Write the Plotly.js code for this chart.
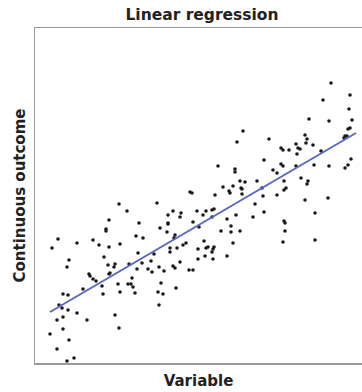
<!DOCTYPE html>
<html>
<head>
<meta charset="utf-8">
<script src="https://cdn.plot.ly/plotly-3.0.1.min.js"></script>
<style>html,body{margin:0;padding:0;background:#fff;}#chart{width:362px;height:392px;}</style>
</head>
<body>
<div id="chart"></div>
<script>
var chartTitle = 'Linear regression';
var xTitle = 'Variable';
var yTitle = 'Continuous outcome';

var xVals = [296,315,288,314,274,294,317,315,313,234,270,272,271,310,312,309,246,248,254,261,263,265,262,278,286,229,246,248,238,242,261,279,294,310,313,316,222,249,266,273,272,227,251,249,228,242,220,270,293,229,218,249,250,280,250,248,280,208,202,183,200,200,122,155,157,180,188,194,195,198,205,210,206,207,207,138,133,146,145,133,133,125,132,140,139,162,171,179,177,168,177,158,164,192,201,196,196,186,205,169,198,151,148,142,135,135,163,171,173,179,178,177,170,163,178,192,119,116,145,138,140,124,129,117,154,158,126,123,128,141,124,84,92,74,104,71,71,23,101,108,17,42,58,64,74,85,34,32,69,73,80,79,75,74,94,103,102,107,113,54,55,58,61,97,48,67,83,93,96,98,68,85,100,28,33,24,27,33,42,22,28,52,80,84,28,15,34,22,32,39];
var yVals = [280,268,263,254,244,242,243,235,234,224,228,224,220,227,227,225,215,213,213,219,215,214,209,218,212,203,199,197,193,190,197,198,197,195,198,204,182,182,185,182,179,175,175,173,167,168,159,163,165,151,146,142,140,150,132,121,123,232,221,197,194,191,160,171,170,168,176,172,170,177,182,181,175,174,169,152,148,150,146,140,139,135,131,128,125,152,152,154,153,148,146,141,136,144,148,137,131,132,132,122,120,120,118,115,115,111,114,115,116,116,114,111,107,104,104,107,109,102,101,97,95,96,92,91,93,93,80,71,69,75,58,159,152,143,140,134,132,124,127,125,115,120,123,118,116,119,103,96,106,98,99,96,90,89,99,110,94,100,94,89,87,84,82,85,74,77,79,79,79,76,69,71,70,69,68,58,55,53,50,43,46,43,48,35,34,29,23,14,2,5];

var fitX = [15, 321];
var fitY = [51, 230];

var fontFam = 'DejaVu Sans, Liberation Sans, Arial, sans-serif';

var data = [
  {
    type: 'scatter', mode: 'markers', x: xVals, y: yVals,
    marker: {size: 3.6, color: '#1a1a1a'},
    hoverinfo: 'skip', showlegend: false
  },
  {
    type: 'scatter', mode: 'lines', x: fitX, y: fitY,
    line: {color: '#5a66c0', width: 2},
    hoverinfo: 'skip', showlegend: false
  }
];

var layout = {
  width: 362, height: 392,
  margin: {l: 35, r: 0, t: 28, b: 29},
  paper_bgcolor: '#fff', plot_bgcolor: '#fff',
  showlegend: false,
  title: {
    text: chartTitle,
    font: {family: fontFam, size: 15.5, color: '#222', weight: 'bold'},
    x: 202/362, xanchor: 'center', xref: 'container',
    y: 1 - 15/392, yanchor: 'middle', yref: 'container'
  },
  xaxis: {
    range: [0, 327], showgrid: false, zeroline: false,
    showticklabels: false, ticks: '',
    showline: true, linecolor: '#9a9a9a', linewidth: 1.5, mirror: true,
    title: {text: xTitle, font: {family: fontFam, size: 15, color: '#222', weight: 'bold'}, standoff: 12}
  },
  yaxis: {
    range: [0, 335], showgrid: false, zeroline: false,
    showticklabels: false, ticks: '',
    showline: true, linecolor: '#9a9a9a', linewidth: 1.5, mirror: false,
    title: {text: yTitle, font: {family: fontFam, size: 15, color: '#222', weight: 'bold'}, standoff: 4}
  }
};

Plotly.newPlot('chart', data, layout, {staticPlot: true, displayModeBar: false});
</script>
</body>
</html>
